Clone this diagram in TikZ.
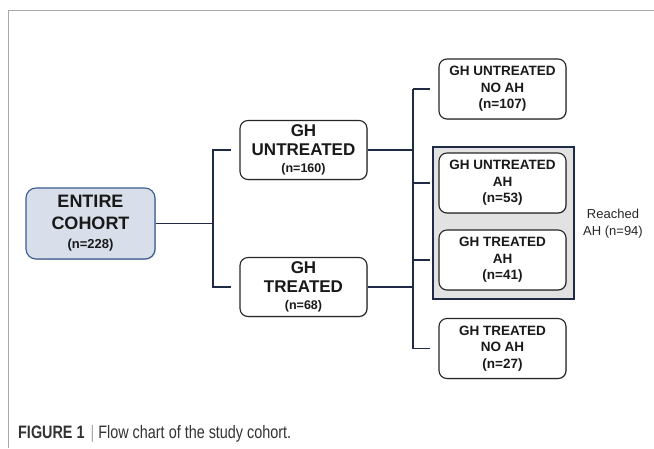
\documentclass[tikz,border=0pt]{standalone}
\usepackage{fontspec}
\setmainfont{Liberation Sans}
\newfontfamily\capfont[FakeStretch=0.8]{Liberation Sans}
\usetikzlibrary{shadows}

\definecolor{navy}{HTML}{1F2A44}
\definecolor{cohortfill}{HTML}{D9DFEA}
\definecolor{cohortdraw}{HTML}{3B5B8E}
\definecolor{groupfill}{HTML}{E2E2E2}
\definecolor{framegray}{HTML}{A8A8A8}

\begin{document}
\begin{tikzpicture}[x=1pt, y=-1pt,
	link/.style={draw=navy, line width=1.6pt},
	box/.style={draw=black!85, line width=1.1pt, rounded corners=8pt, fill=white, align=center, inner sep=0pt, text=black!90,
		drop shadow={shadow xshift=0.8pt, shadow yshift=-0.8pt, opacity=0.45}},
	cohortbox/.style={box, draw=cohortdraw, fill=cohortfill, rounded corners=10pt, minimum width=129, minimum height=71, font=\bfseries\fontsize{18}{22}\selectfont},
	midbox/.style={box, minimum width=127, minimum height=59, font=\bfseries\fontsize{17}{19}\selectfont},
	endbox/.style={box, minimum width=127, minimum height=60, font=\bfseries\fontsize{13.5}{16.5}\selectfont}]

		\useasboundingbox (0,0) rectangle (654,448);
		\draw [framegray, line width=0.8pt] (654,10) -- (8,10) -- (8,448);

		% group of the ones that reached AH
		\node [draw=navy, line width=1.6pt, fill=groupfill, minimum width=141, minimum height=152, inner sep=0pt] (reach) at (503.5, 223) {};

		\node [cohortbox] (cohort) at (90.5, 223.5) {ENTIRE\\COHORT\\[-3pt]{\fontsize{13}{15}\selectfont (n=228)}};

		\node [midbox] (untr) at (303.5, 150) {GH\\UNTREATED\\[-2pt]{\fontsize{12.5}{14}\selectfont (n=160)}};
		\node [midbox] (trt) at (303.5, 287) {GH\\TREATED\\[-2pt]{\fontsize{12.5}{14}\selectfont (n=68)}};

		\node [endbox] (noah1) at (502.5, 89) {GH UNTREATED\\NO AH\\(n=107)};
		\node [endbox] (ah1) at (502.5, 183) {GH UNTREATED\\AH\\(n=53)};
		\node [endbox] (ah2) at (502.5, 260) {GH TREATED\\AH\\(n=41)};
		\node [endbox] (noah2) at (502.5, 348.5) {GH TREATED\\NO AH\\(n=27)};

		\node [align=center, text=black!85, font=\fontsize{13}{17}\selectfont] (reachlbl) at (613, 224) {Reached\\AH (n=94)};

		\coordinate (j1) at (213, 223.5);
		\coordinate (j2) at (413, 218);

		\draw [link] (cohort.east) -- (j1);
		\draw [link, shorten >=8pt] (j1) |- (untr.west);
		\draw [link, shorten >=8pt] (j1) |- (trt.west);

		\draw [link] (untr.east) -- (untr.east -| j2);
		\draw [link] (trt.east) -- (trt.east -| j2);
		\draw [link] (j2 |- noah1.west) -- (j2 |- noah2.west);
		\draw [link, shorten >=8pt] (j2 |- noah1.west) -- (noah1.west);
		\draw [link, shorten >=8pt] (j2 |- ah1.west) -- (ah1.west);
		\draw [link, shorten >=8pt] (j2 |- ah2.west) -- (ah2.west);
		\draw [link, shorten >=8pt] (j2 |- noah2.west) -- (noah2.west);

		\node [anchor=base west, inner sep=0pt, text=black!80, font=\capfont\fontsize{18}{20}\selectfont] (caption) at (18, 438)
			{\textbf{FIGURE 1}\hspace{6pt}{\color{black!35}|}\hspace{4pt}Flow chart of the study cohort.};
\end{tikzpicture}
\end{document}
